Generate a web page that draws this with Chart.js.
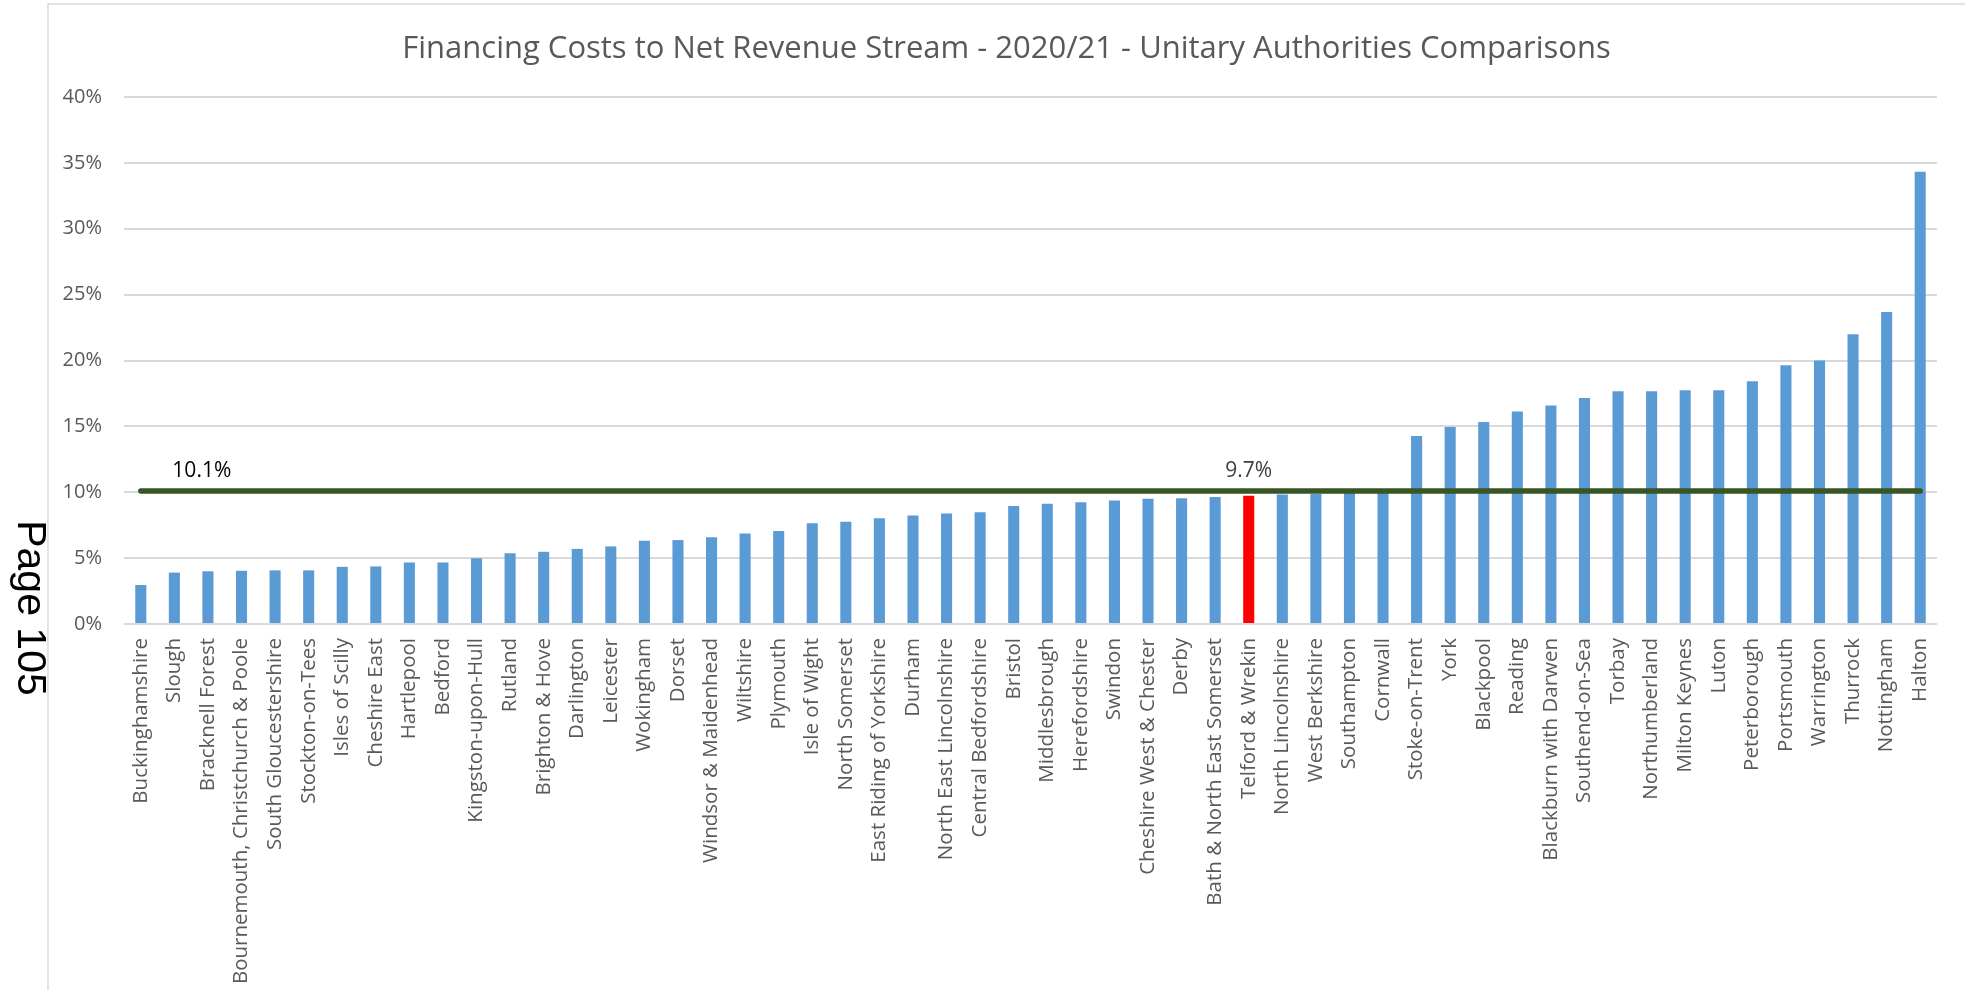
<!DOCTYPE html>
<html>
<head>
<meta charset="utf-8">
<title>Financing Costs to Net Revenue Stream</title>
<script src="https://cdn.jsdelivr.net/npm/chart.js@4.4.1/dist/chart.umd.min.js"></script>
<style>
  body { margin: 0; background: #fff; }
  #wrap { width: 1965px; height: 990px; position: relative; }
</style>
</head>
<body>
<div id="wrap"><canvas id="chart"></canvas></div>
<script>
const authorities = [
  "Buckinghamshire", "Slough", "Bracknell Forest", "Bournemouth, Christchurch & Poole",
  "South Gloucestershire", "Stockton-on-Tees", "Isles of Scilly", "Cheshire East",
  "Hartlepool", "Bedford", "Kingston-upon-Hull", "Rutland", "Brighton & Hove",
  "Darlington", "Leicester", "Wokingham", "Dorset", "Windsor & Maidenhead", "Wiltshire",
  "Plymouth", "Isle of Wight", "North Somerset", "East Riding of Yorkshire", "Durham",
  "North East Lincolnshire", "Central Bedfordshire", "Bristol", "Middlesbrough",
  "Herefordshire", "Swindon", "Cheshire West & Chester", "Derby",
  "Bath & North East Somerset", "Telford & Wrekin", "North Lincolnshire", "West Berkshire",
  "Southampton", "Cornwall", "Stoke-on-Trent", "York", "Blackpool", "Reading",
  "Blackburn with Darwen", "Southend-on-Sea", "Torbay", "Northumberland", "Milton Keynes",
  "Luton", "Peterborough", "Portsmouth", "Warrington", "Thurrock", "Nottingham", "Halton"
];

// financing costs as % of net revenue stream
const financingPct = [
  2.96, 3.9, 4.0, 4.04, 4.07, 4.07, 4.34, 4.37, 4.67, 4.67,
  4.99, 5.37, 5.48, 5.70, 5.89, 6.32, 6.37, 6.59, 6.86, 7.05,
  7.65, 7.76, 8.03, 8.24, 8.38, 8.49, 8.95, 9.12, 9.25, 9.38,
  9.50, 9.55, 9.64, 9.74, 9.82, 9.86, 10.0, 10.15, 14.27, 14.95,
  15.33, 16.12, 16.58, 17.15, 17.67, 17.67, 17.74, 17.74, 18.43, 19.64,
  20.0, 22.0, 23.69, 34.32
];

const averagePct = 10.1;
const highlight = "Telford & Wrekin";
const yTicks = [0, 5, 10, 15, 20, 25, 30, 35, 40];
const chartTitle = "Financing Costs to Net Revenue Stream - 2020/21 - Unitary Authorities Comparisons";

const barColours = authorities.map(a => a === highlight ? "#FF0000" : "#5B9BD5");

// frame, title, page number and the two value labels
const extras = {
  id: "extras",
  beforeDraw(chart) {
    const ctx = chart.ctx;
    ctx.save();
    ctx.strokeStyle = "#d9d9d9";
    ctx.lineWidth = 1.5;
    ctx.beginPath();
    ctx.moveTo(48, 990);
    ctx.lineTo(48, 4);
    ctx.lineTo(1965, 4);
    ctx.stroke();

    // title is centred over the framed box, not the canvas
    ctx.fillStyle = "#595959";
    ctx.font = '31px "Open Sans", sans-serif';
    ctx.textAlign = "center";
    ctx.textBaseline = "middle";
    ctx.fillText(chartTitle, (48 + chart.width) / 2, 49);

    ctx.translate(29, 608);
    ctx.rotate(Math.PI / 2);
    ctx.fillStyle = "#000";
    ctx.font = '41px "Liberation Sans", Arial, sans-serif';
    ctx.fillText("Page 105", 0, 0);
    ctx.restore();
  },
  afterDatasetsDraw(chart) {
    const ctx = chart.ctx;
    const x = chart.scales.x;
    const y = chart.scales.y;
    const ly = y.getPixelForValue(averagePct) - 20;
    ctx.save();
    ctx.font = '21px "Open Sans", sans-serif';
    ctx.textBaseline = "middle";

    ctx.fillStyle = "#000";
    ctx.textAlign = "left";
    ctx.fillText(averagePct.toFixed(1) + "%", x.getPixelForValue(1) - 2, ly);

    const hi = authorities.indexOf(highlight);
    ctx.fillStyle = "#404040";
    ctx.textAlign = "center";
    ctx.fillText(financingPct[hi].toFixed(1) + "%", x.getPixelForValue(hi), ly);
    ctx.restore();
  }
};

new Chart(document.getElementById("chart"), {
  data: {
    labels: authorities,
    datasets: [
      {
        type: "line",
        label: "Average",
        data: [
          { x: authorities[0], y: averagePct },
          { x: authorities[authorities.length - 1], y: averagePct }
        ],
        borderColor: "#375623",
        borderWidth: 5.5,
        borderCapStyle: "round",
        pointRadius: 0,
        order: 0
      },
      {
        type: "bar",
        label: "Financing costs",
        data: financingPct,
        backgroundColor: barColours,
        categoryPercentage: 1,
        barPercentage: 0.33,
        order: 1
      }
    ]
  },
  options: {
    responsive: true,
    maintainAspectRatio: false,
    animation: false,
    layout: { padding: { left: 0, right: 28, top: 97, bottom: 0 } },
    scales: {
      x: {
        grid: { display: false, drawTicks: false },
        border: { display: false },
        ticks: {
          autoSkip: false,
          minRotation: 90,
          maxRotation: 90,
          padding: 14,
          color: "#595959",
          font: { family: "'Open Sans'", size: 20.5 }
        },
        afterFit(scale) { scale.height = 366; }
      },
      y: {
        min: 0,
        max: 40,
        afterBuildTicks(scale) { scale.ticks = yTicks.map(v => ({ value: v })); },
        grid: { color: "#d9d9d9", lineWidth: 2, drawTicks: false },
        border: { display: false },
        ticks: {
          padding: 22,
          color: "#595959",
          font: { family: "'Open Sans'", size: 20 },
          callback: v => v + "%"
        },
        afterFit(scale) { scale.width = 124; }
      }
    },
    plugins: {
      legend: { display: false },
      tooltip: { enabled: false },
      title: { display: false }
    }
  },
  plugins: [extras]
});
</script>
</body>
</html>
